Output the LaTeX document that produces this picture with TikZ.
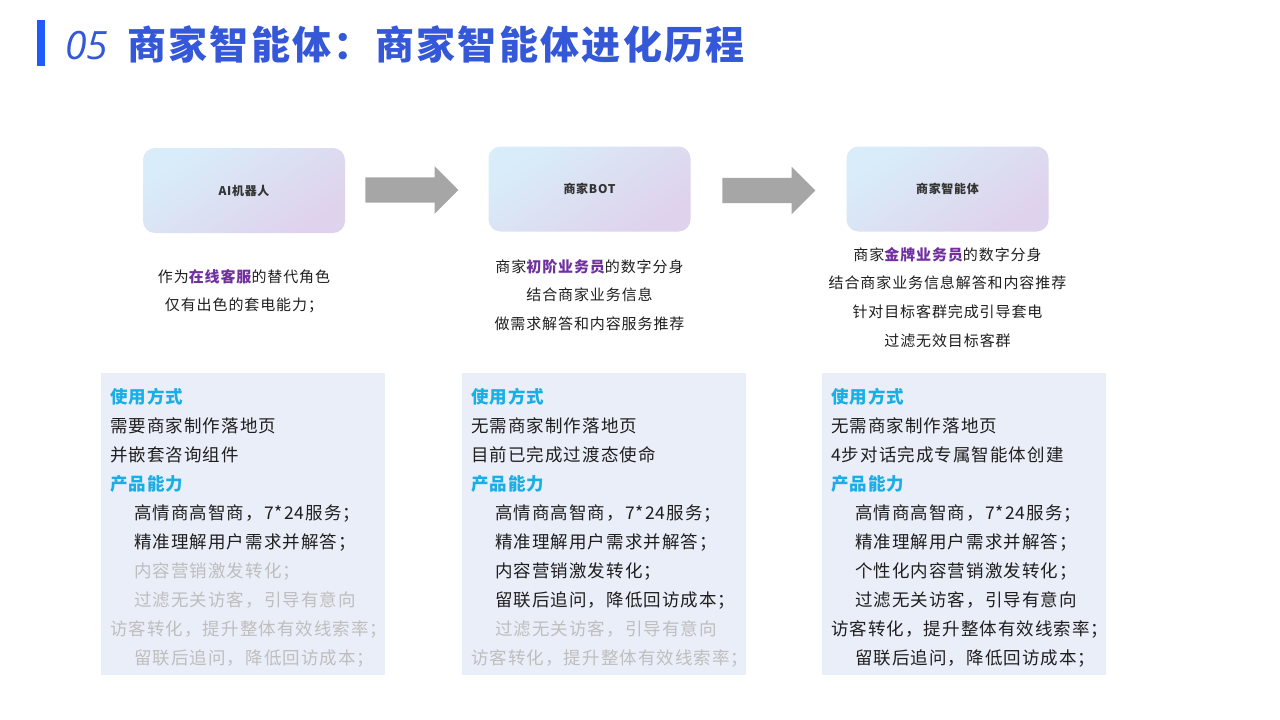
\documentclass[tikz,border=0pt]{standalone}
\usepackage{fontspec}
\setmainfont{Noto Sans CJK SC}[LetterSpace=6]
\newfontfamily\numfont{Open Sans}
\usetikzlibrary{shapes.arrows}
\definecolor{titleblue}{HTML}{3558D8}
\definecolor{barblue}{HTML}{1E5BFA}
\definecolor{boxA}{HTML}{D8EDF9}
\definecolor{boxB}{HTML}{DFD2EC}
\definecolor{infobg}{HTML}{EAEEF8}
\definecolor{headc}{HTML}{18AEE6}
\definecolor{purp}{HTML}{7030A0}
\definecolor{grayt}{HTML}{BEBEBE}
\definecolor{txt}{HTML}{1F1F1F}
\definecolor{arrowgray}{HTML}{A6A6A6}
\newcommand{\hd}[1]{{\bfseries\color{headc}#1}}
\newcommand{\hl}[1]{{\bfseries\color{purp}#1}}
\newcommand{\ind}{\hspace*{24pt}}
\begin{document}
\begin{tikzpicture}[x=1pt,y=-1pt,
  stage/.style={rounded corners=12pt, top color=boxA, bottom color=boxB, shading angle=35,
    minimum width=202pt, minimum height=85pt, inner sep=0pt,
    font=\fontsize{12}{14}\selectfont\bfseries, text=black!80},
  flowarrow/.style={single arrow, fill=arrowgray, draw=none, inner xsep=0pt, inner ysep=12.5pt,
    single arrow head extend=11pt, minimum height=93pt, anchor=center},
  desc/.style={align=center, inner sep=0pt, anchor=north, text=txt,
    font=\fontsize{15}{28.7}\selectfont},
  infobox/.style={fill=infobg, draw=none, minimum width=284pt, minimum height=302pt, inner sep=0pt},
  infotext/.style={align=left, inner sep=0pt, anchor=north west, text=txt,
    font=\fontsize{17.5}{29}\selectfont}
]
\useasboundingbox (0,0) rectangle (1280,720);
\fill[white] (0,0) rectangle (1280,720);

% title
\fill[barblue] (37,20) rectangle (45,66);
\node[anchor=west, inner sep=0pt, text=titleblue, font=\fontsize{39}{44}\selectfont\bfseries] (title) at (65,45)
  {{\numfont\mdseries\itshape 05}\hspace{19pt}商家智能体：商家智能体进化历程};

% stage boxes
\node[stage] (s1) at (244,190.5) {AI机器人};
\node[stage] (s2) at (589.5,189) {商家BOT};
\node[stage] (s3) at (947.5,189) {商家智能体};

% arrows
\node[flowarrow] (a1) at (405.5,190) {};
\node[flowarrow] (a2) at (762.5,190.5) {};

% descriptions
\node[desc] (d1) at (244,269) {作为\hl{在线客服}的替代角色\\仅有出色的套电能力；};
\node[desc] (d2) at (589.5,259) {商家\hl{初阶业务员}的数字分身\\结合商家业务信息\\做需求解答和内容服务推荐};
\node[desc] (d3) at (947.5,247) {商家\hl{金牌业务员}的数字分身\\结合商家业务信息解答和内容推荐\\针对目标客群完成引导套电\\过滤无效目标客群};

% info boxes
\node[infobox] (b1) at (243,524) {};
\node[infobox] (b2) at (604,524) {};
\node[infobox] (b3) at (964,524) {};

\node[infotext] (t1) at (110,388) {%
\hd{使用方式}\\
需要商家制作落地页\\
并嵌套咨询组件\\
\hd{产品能力}\\
\ind 高情商高智商，7*24服务；\\
\ind 精准理解用户需求并解答；\\
{\color{grayt}\ind 内容营销激发转化；}\\
{\color{grayt}\ind 过滤无关访客，引导有意向}\\
{\color{grayt}访客转化，提升整体有效线索率；}\\
{\color{grayt}\ind 留联后追问，降低回访成本；}};

\node[infotext] (t2) at (471,388) {%
\hd{使用方式}\\
无需商家制作落地页\\
目前已完成过渡态使命\\
\hd{产品能力}\\
\ind 高情商高智商，7*24服务；\\
\ind 精准理解用户需求并解答；\\
\ind 内容营销激发转化；\\
\ind 留联后追问，降低回访成本；\\
{\color{grayt}\ind 过滤无关访客，引导有意向}\\
{\color{grayt}访客转化，提升整体有效线索率；}};

\node[infotext] (t3) at (831,388) {%
\hd{使用方式}\\
无需商家制作落地页\\
4步对话完成专属智能体创建\\
\hd{产品能力}\\
\ind 高情商高智商，7*24服务；\\
\ind 精准理解用户需求并解答；\\
\ind 个性化内容营销激发转化；\\
\ind 过滤无关访客，引导有意向\\
访客转化，提升整体有效线索率；\\
\ind 留联后追问，降低回访成本；};
\end{tikzpicture}
\end{document}
